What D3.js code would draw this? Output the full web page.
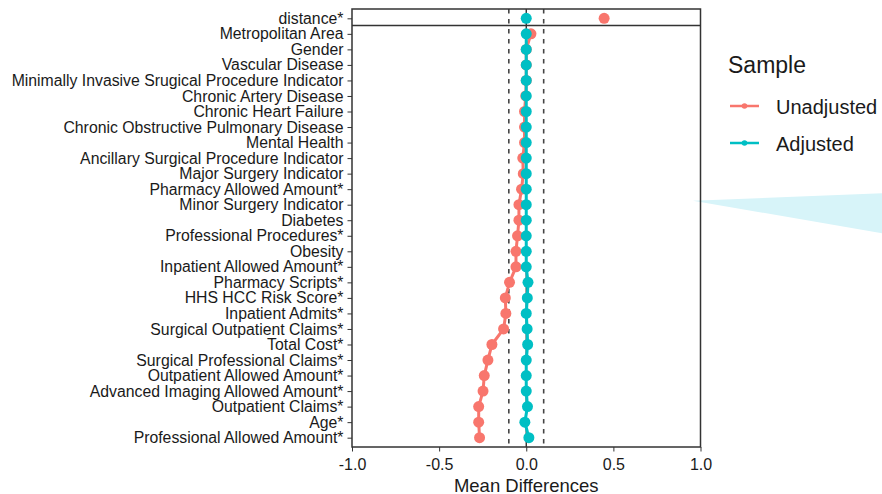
<!DOCTYPE html>
<html>
<head>
<meta charset="utf-8">
<script src="https://cdn.jsdelivr.net/npm/d3@7"></script>
<style>
  body { margin: 0; background: #fff; }
  svg { display: block; font-family: "Liberation Sans", Arial, sans-serif; }
</style>
</head>
<body>
<div id="chart"></div>
<script>
// covariates, top to bottom
const covariates = ["distance*", "Metropolitan Area", "Gender", "Vascular Disease",
  "Minimally Invasive Srugical Procedure Indicator", "Chronic Artery Disease",
  "Chronic Heart Failure", "Chronic Obstructive Pulmonary Disease", "Mental Health",
  "Ancillary Surgical Procedure Indicator", "Major Surgery Indicator",
  "Pharmacy Allowed Amount*", "Minor Surgery Indicator", "Diabetes",
  "Professional Procedures*", "Obesity", "Inpatient Allowed Amount*",
  "Pharmacy Scripts*", "HHS HCC Risk Score*", "Inpatient Admits*",
  "Surgical Outpatient Claims*", "Total Cost*", "Surgical Professional Claims*",
  "Outpatient Allowed Amount*", "Advanced Imaging Allowed Amount*",
  "Outpatient Claims*", "Age*", "Professional Allowed Amount*"];

const unadjusted = [0.447, 0.027, 0, 0, 0, -0.003, -0.01, -0.01, -0.01, -0.02, -0.017,
  -0.027, -0.042, -0.042, -0.05, -0.059, -0.059, -0.096, -0.12, -0.117, -0.13,
  -0.197, -0.22, -0.241, -0.248, -0.273, -0.273, -0.268];
const adjusted = [0, 0, 0, 0, 0, 0, 0, 0, 0, 0, 0, 0, 0, 0, 0, 0, 0, 0.01, 0.006, 0,
  0.005, 0.008, 0, 0, 0, 0.007, -0.008, 0.015];

const xTicks = [-1, -0.5, 0, 0.5, 1];
const thresholds = [-0.1, 0.1];
const sampleNames = ["Unadjusted", "Adjusted"];
const sampleColors = ["#F8766D", "#00BFC4"];

const W = 882, H = 494;
const svg = d3.select("#chart").append("svg").attr("width", W).attr("height", H);

const pLeft = 352, pRight = 700.5, pTop = 9, pBottom = 447;
const x = d3.scaleLinear().domain([-1, 1]).range([pLeft, pRight]);
const y = d3.scalePoint().domain(covariates).range([pTop, pBottom]).padding(0.6);

// light cyan wedge on the right edge
svg.append("polygon")
  .attr("points", "693,200.7 882,193.3 882,233.3")
  .attr("fill", "#d7f4f9");

// reference lines
svg.append("line")
  .attr("x1", x(0)).attr("x2", x(0)).attr("y1", pTop).attr("y2", pBottom)
  .attr("stroke", "#222").attr("stroke-width", 1.3);
svg.selectAll(".thr").data(thresholds).enter().append("line")
  .attr("x1", d => x(d)).attr("x2", d => x(d)).attr("y1", pTop).attr("y2", pBottom)
  .attr("stroke", "#444").attr("stroke-width", 1.6).attr("stroke-dasharray", "4.5,5.5");

// series
const series = [unadjusted, adjusted];
const line = d3.line().x(d => x(d.v)).y(d => y(d.k));
series.forEach((vals, s) => {
  const pts = vals.map((v, i) => ({ k: covariates[i], v: v }));
  const g = svg.append("g");
  // distance sits in its own panel, so the line starts with the second row
  g.append("path")
    .attr("d", line(pts.slice(1)))
    .attr("fill", "none")
    .attr("stroke", sampleColors[s])
    .attr("stroke-width", 3);
  g.selectAll("circle").data(pts).enter().append("circle")
    .attr("cx", d => x(d.v)).attr("cy", d => y(d.k)).attr("r", 5.5)
    .attr("fill", sampleColors[s]);
});

// panel borders
const sep = (y(covariates[0]) + y(covariates[1])) / 2 - 0.5;
svg.append("rect")
  .attr("x", pLeft).attr("y", pTop).attr("width", pRight - pLeft).attr("height", pBottom - pTop)
  .attr("fill", "none").attr("stroke", "#333").attr("stroke-width", 1.5);
svg.append("line")
  .attr("x1", pLeft).attr("x2", pRight).attr("y1", sep).attr("y2", sep)
  .attr("stroke", "#333").attr("stroke-width", 1.5);

// axes
const yAxis = svg.append("g").attr("transform", `translate(${pLeft},0)`)
  .call(d3.axisLeft(y).tickSize(4.5).tickPadding(4));
yAxis.select(".domain").remove();
yAxis.selectAll("text").attr("font-size", "15.8px").attr("fill", "#1a1a1a");
yAxis.selectAll("line").attr("stroke", "#333");

const xAxis = svg.append("g").attr("transform", `translate(0,${pBottom})`)
  .call(d3.axisBottom(x).tickValues(xTicks).tickFormat(d => d.toFixed(1))
    .tickSize(4.5).tickPadding(7));
xAxis.select(".domain").remove();
xAxis.selectAll("text").attr("font-size", "16px").attr("fill", "#1a1a1a");
xAxis.selectAll("line").attr("stroke", "#333");

svg.append("text")
  .attr("x", (pLeft + pRight) / 2).attr("y", 491.5)
  .attr("text-anchor", "middle").attr("font-size", "18.5px").attr("fill", "#1a1a1a")
  .text("Mean Differences");

// legend
const lg = svg.append("g").attr("transform", "translate(728,0)");
lg.append("text").attr("x", 0).attr("y", 73).attr("font-size", "23px").attr("fill", "#1a1a1a")
  .text("Sample");
sampleNames.forEach((name, i) => {
  const cy = 106 + i * 37;
  lg.append("line").attr("x1", 2).attr("x2", 31).attr("y1", cy).attr("y2", cy)
    .attr("stroke", sampleColors[i]).attr("stroke-width", 2.5);
  lg.append("circle").attr("cx", 16.5).attr("cy", cy).attr("r", 2.8).attr("fill", sampleColors[i]);
  lg.append("text").attr("x", 48).attr("y", cy + 8).attr("font-size", "20px").attr("fill", "#1a1a1a")
    .text(name);
});
</script>
</body>
</html>
